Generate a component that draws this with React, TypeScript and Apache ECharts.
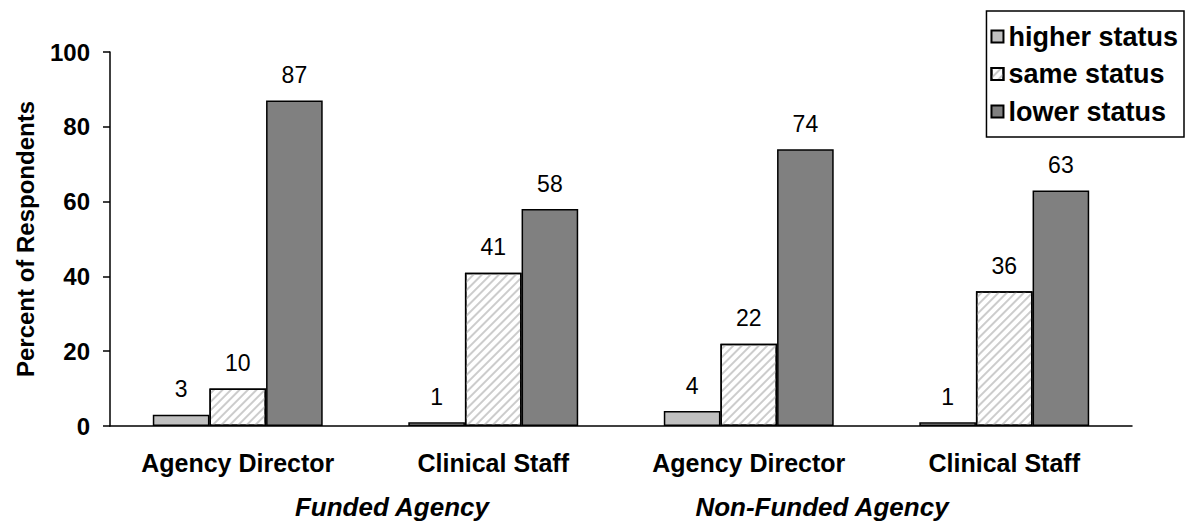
import React, { useEffect, useRef } from "react";
import * as echarts from "echarts";

const categories = ["Agency Director", "Clinical Staff", "Agency Director", "Clinical Staff"];
const higherStatus = [3, 1, 4, 1];
const sameStatus = [10, 41, 22, 36];
const lowerStatus = [87, 58, 74, 63];
const groupLabels = ["Funded Agency", "Non-Funded Agency"];
const yTicks = { min: 0, max: 100, interval: 20 };

const FONT = "Liberation Sans, Arial, sans-serif";

export default function App() {
  const ref = useRef<HTMLDivElement>(null);
  useEffect(() => {
    if (!ref.current) return;
    const chart = echarts.init(ref.current, null, { renderer: "svg" });
    const label = {
      show: true,
      position: "top",
      distance: 14,
      fontFamily: FONT,
      fontSize: 23,
      color: "#000",
    };
    const mk = (name: string, data: number[], itemStyle: any) => ({
      name,
      type: "bar",
      data,
      barGap: "0%",
      barCategoryGap: "33.5%",
      itemStyle: { borderColor: "#000", borderWidth: 1.5, ...itemStyle },
      label,
    });
    const groupText = (x: number, text: string) => ({
      type: "text",
      x,
      y: 507,
      style: {
        text,
        fontFamily: FONT,
        fontSize: 26,
        fontWeight: "bold",
        fontStyle: "italic",
        fill: "#000",
        textAlign: "center",
        textVerticalAlign: "middle",
      },
    });
    chart.setOption({
      animation: false,
      textStyle: { fontFamily: FONT },
      grid: { left: 110, right: 56, top: 52, bottom: 95, containLabel: false, outerBoundsMode: "none" },
      legend: {
        orient: "vertical",
        right: 4,
        top: 11,
        icon: "rect",
        itemWidth: 12,
        itemHeight: 12,
        itemGap: 10.5,
        padding: [12, 6, 12, 4],
        borderColor: "#000",
        borderWidth: 1.5,
        textStyle: { fontFamily: FONT, fontSize: 27, fontWeight: "bold", color: "#000" },
        data: ["higher status", "same status", "lower status"],
      },
      xAxis: {
        type: "category",
        data: categories,
        axisLine: { lineStyle: { color: "#000", width: 1.5 } },
        axisTick: { length: 7, lineStyle: { color: "#000", width: 1.5 } },
        axisLabel: { margin: 24, fontFamily: FONT, fontSize: 25, fontWeight: "bold", color: "#000" },
      },
      yAxis: {
        type: "value",
        min: yTicks.min,
        max: yTicks.max,
        interval: yTicks.interval,
        name: "Percent of Respondents",
        nameLocation: "middle",
        nameGap: 73,
        nameTextStyle: { fontFamily: FONT, fontSize: 24, fontWeight: "bold", color: "#000" },
        splitLine: { show: false },
        axisLine: { show: true, lineStyle: { color: "#000", width: 1.5 } },
        axisTick: { show: true, length: 7, lineStyle: { color: "#000", width: 1.5 } },
        axisLabel: { margin: 20, fontFamily: FONT, fontSize: 24, fontWeight: "bold", color: "#000" },
      },
      graphic: [groupText(392, groupLabels[0]), groupText(822, groupLabels[1])],
      series: [
        mk("higher status", higherStatus, { color: "#c0c0c0" }),
        mk("same status", sameStatus, {
          color: "#ffffff",
          decal: {
            symbol: "rect",
            symbolSize: 1,
            color: "#cccccc",
            dashArrayX: [1, 0],
            dashArrayY: [1.5, 4],
            rotation: -Math.PI / 4,
          },
        }),
        mk("lower status", lowerStatus, { color: "#808080" }),
      ],
    });
    return () => chart.dispose();
  }, []);
  return (
    <div
      ref={ref}
      style={{ position: "absolute", left: 0, top: 0, width: 1188, height: 521, background: "#fff" }}
    />
  );
}
